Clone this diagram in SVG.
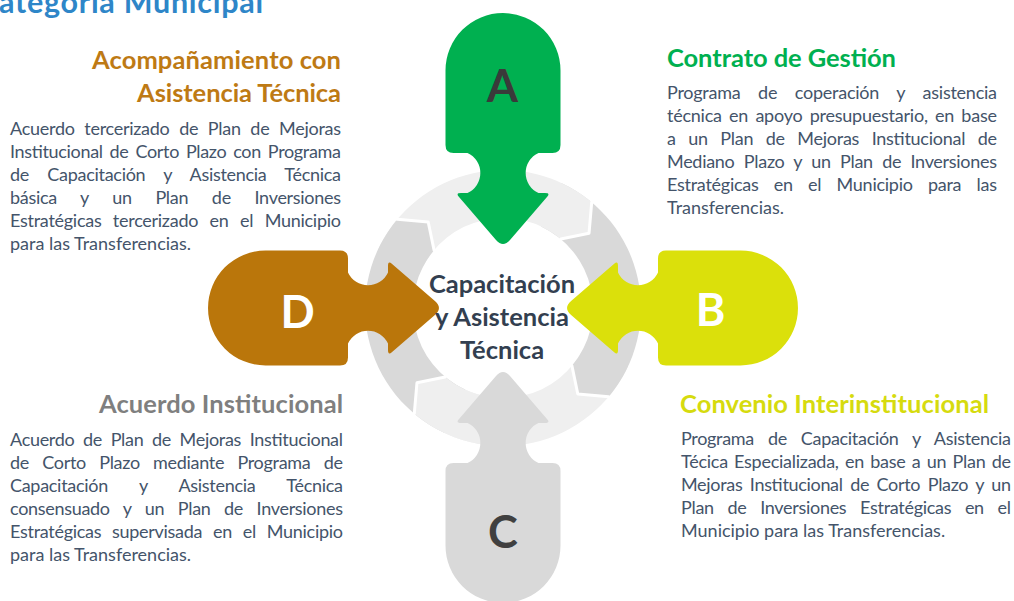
<svg xmlns="http://www.w3.org/2000/svg" xmlns:xlink="http://www.w3.org/1999/xlink" width="1014" height="601" viewBox="0 0 1014 601">
<style>
.body{font-family:Lato,"Noto Sans",sans-serif;font-size:18px;fill:#44546A}
.ttl{font-family:Lato,"Noto Sans",sans-serif;font-weight:700;font-size:25.5px}
.ctr{font-family:Lato,"Noto Sans",sans-serif;font-weight:700;font-size:25.5px;fill:#333F50;text-anchor:middle}
.ltr{font-family:Lato,"Noto Sans",sans-serif;font-weight:700;font-size:45px;text-anchor:middle}
.light{fill:#EFEFEF}
.dark{fill:#D9D9D9}
.edge{fill:none;stroke:#FFFFFF;stroke-width:3;stroke-linejoin:round;stroke-linecap:round}
</style>
<defs>
<path id="arrowShape" d="M-57.5,-237.5 A57.5,57.5 0 0 1 57.5,-237.5 L57.5,-163 Q57.5,-155 49.5,-155 L35.5,-155 A22,22 0 0 0 35.5,-115 L42,-115 Q47.5,-115 44.2,-111.2 L7,-68.1 Q0,-60 -7,-68.1 L-44.2,-111.2 Q-47.5,-115 -42,-115 L-35.5,-115 A22,22 0 0 0 -35.5,-155 L-49.5,-155 Q-57.5,-155 -57.5,-163 Z"/>
</defs>
<rect width="1014" height="601" fill="#FFFFFF"/>
<text x="-1" y="13" class="ttl" style="font-size:30.5px" fill="#2E86C8" textLength="264">ategoria Municipal</text>

<g id="connectors">
<path class="light" d="M628.07,366.32 A138,138 0 0 1 414.29,413.71 L416.96,382.80 L445.15,376.94 A90,90 0 0 0 584.57,346.03 Z"/>
<path class="dark" d="M561.32,182.93 A138,138 0 0 1 608.71,396.71 L577.80,394.04 L571.94,365.85 A90,90 0 0 0 541.03,226.43 Z"/>
<path class="edge" d="M608.71,396.71 L577.80,394.04 L571.94,365.85"/>
<path class="light" d="M377.93,249.68 A138,138 0 0 1 591.71,202.29 L589.04,233.20 L560.85,239.06 A90,90 0 0 0 421.43,269.97 Z"/>
<path class="edge" d="M591.71,202.29 L589.04,233.20 L560.85,239.06"/>
<path class="dark" d="M444.68,433.07 A138,138 0 0 1 397.29,219.29 L428.20,221.96 L434.06,250.15 A90,90 0 0 0 464.97,389.57 Z"/>
<path class="edge" d="M397.29,219.29 L428.20,221.96 L434.06,250.15"/>
<path class="light" d="M479.04,443.90 A138,138 0 0 1 414.29,413.71 L416.96,382.80 L445.15,376.94 A90,90 0 0 0 487.38,396.63 Z"/>
<path class="edge" d="M414.29,413.71 L416.96,382.80 L445.15,376.94"/>
</g>

<g id="node-A">
<use xlink:href="#arrowShape" href="#arrowShape" transform="translate(503 308)" fill="#00B050"/>
<text x="502.5" y="102" class="ltr" fill="#3A3A3A">A</text>
<text x="667" y="67" class="ttl" fill="#00B050" textLength="229">Contrato de Gestión</text>
<text class="body" x="667" y="99" word-spacing="13.3" textLength="330">Programa de coperación y asistencia</text>
<text class="body" x="667" y="122" word-spacing="2.9" textLength="330">técnica en apoyo presupuestario, en base</text>
<text class="body" x="667" y="145" word-spacing="8.2" textLength="330">a un Plan de Mejoras Institucional de</text>
<text class="body" x="667" y="168" word-spacing="5.0" textLength="330">Mediano Plazo y un Plan de Inversiones</text>
<text class="body" x="667" y="191" word-spacing="10.9" textLength="330">Estratégicas en el Municipio para las</text>
<text class="body" x="667" y="214">Transferencias.</text>
</g>

<g id="node-B">
<use xlink:href="#arrowShape" href="#arrowShape" transform="translate(503 308) rotate(90)" fill="#DBE00B"/>
<text x="710.5" y="326" class="ltr" fill="#FFFFFF">B</text>
<text x="680" y="413" class="ttl" fill="#D6DB0E" textLength="309">Convenio Interinstitucional</text>
<text class="body" x="681" y="445" word-spacing="9.6" textLength="330">Programa de Capacitación y Asistencia</text>
<text class="body" x="681" y="468" word-spacing="1.9" textLength="330">Técica Especializada, en base a un Plan de</text>
<text class="body" x="681" y="491" word-spacing="3.2" textLength="330">Mejoras Institucional de Corto Plazo y un</text>
<text class="body" x="681" y="514" word-spacing="9.4" textLength="330">Plan de Inversiones Estratégicas en el</text>
<text class="body" x="681" y="537">Municipio para las Transferencias.</text>
</g>

<g id="node-C">
<use xlink:href="#arrowShape" href="#arrowShape" transform="translate(503 308) rotate(180)" fill="#D9D9D9"/>
<text x="503" y="548" class="ltr" fill="#404040">C</text>
<text x="343" y="413" class="ttl" fill="#7F7F7F" text-anchor="end" textLength="244">Acuerdo Institucional</text>
<text class="body" x="10" y="446" word-spacing="4.3" textLength="333">Acuerdo de Plan de Mejoras Institucional</text>
<text class="body" x="10" y="469" word-spacing="8.9" textLength="333">de Corto Plazo mediante Programa de</text>
<text class="body" x="10" y="492" word-spacing="27.2" textLength="333">Capacitación y Asistencia Técnica</text>
<text class="body" x="10" y="515" word-spacing="9.2" textLength="333">consensuado y un Plan de Inversiones</text>
<text class="body" x="10" y="538" word-spacing="6.5" textLength="333">Estratégicas supervisada en el Municipio</text>
<text class="body" x="10" y="561">para las Transferencias.</text>
</g>

<g id="node-D">
<use xlink:href="#arrowShape" href="#arrowShape" transform="translate(503 308) rotate(270)" fill="#BA760B"/>
<text x="297.5" y="328" class="ltr" fill="#FFFFFF">D</text>
<text x="341" y="69" class="ttl" fill="#BE7A14" text-anchor="end" textLength="249">Acompañamiento con</text>
<text x="341" y="102" class="ttl" fill="#BE7A14" text-anchor="end" textLength="204">Asistencia Técnica</text>
<text class="body" x="10" y="135" word-spacing="5.3" textLength="331">Acuerdo tercerizado de Plan de Mejoras</text>
<text class="body" x="10" y="158" word-spacing="2.6" textLength="331">Institucional de Corto Plazo con Programa</text>
<text class="body" x="10" y="181" word-spacing="14.0" textLength="331">de Capacitación y Asistencia Técnica</text>
<text class="body" x="10" y="204" word-spacing="19.3" textLength="331">básica y un Plan de Inversiones</text>
<text class="body" x="10" y="227" word-spacing="7.1" textLength="331">Estratégicas tercerizado en el Municipio</text>
<text class="body" x="10" y="250">para las Transferencias.</text>
</g>

<g id="node-center">
<text class="ctr" x="502" y="293">Capacitación</text>
<text class="ctr" x="502" y="326">y Asistencia</text>
<text class="ctr" x="502" y="359">Técnica</text>
</g>
</svg>
